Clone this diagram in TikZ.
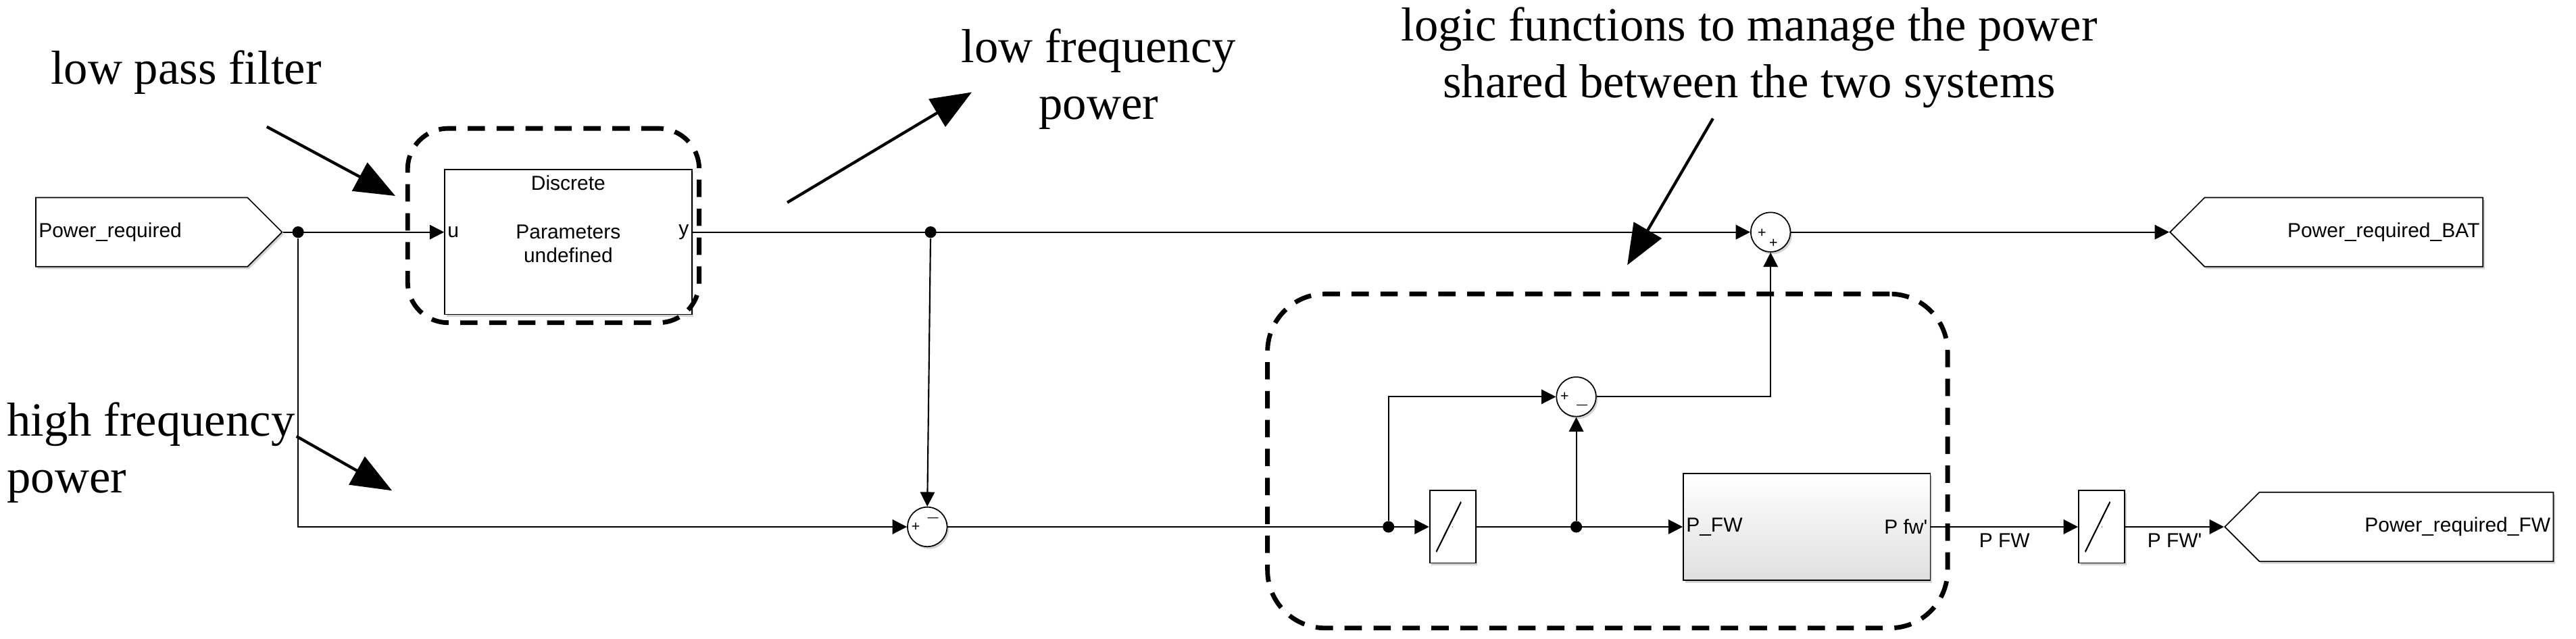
\documentclass[tikz,border=0pt]{standalone}
\usepackage{fontspec}
\setmainfont{Liberation Serif}
\newfontfamily\blockfont{Liberation Sans}
\usetikzlibrary{positioning,arrows.meta,shapes.symbols,shadows}
\tikzset{
  blk/.style={draw,fill=white,font=\blockfont\fontsize{7}{8}\selectfont,drop shadow={opacity=.35,shadow xshift=.6pt,shadow yshift=-.8pt}},
  port/.style={blk,signal,minimum width=2.86cm,minimum height=.84cm,inner sep=1pt},
  sum/.style={blk,circle,minimum size=.48cm,inner sep=0pt},
  sat/.style={blk,minimum width=.56cm,minimum height=.88cm,inner sep=0pt},
  dot/.style={circle,fill,inner sep=0pt,minimum size=4pt},
  sig/.style={-{Triangle[length=5pt,width=5pt]},line width=.5pt},
  grp/.style={draw,line width=1.6pt,dash pattern=on 6pt off 4pt,rounded corners=14pt},
  note/.style={font=\fontsize{16.5}{19.5}\selectfont,align=center},
  call/.style={-{Triangle[length=14pt,width=11pt]},line width=1pt},
  sgn/.style={font=\blockfont\fontsize{5}{5}\selectfont,inner sep=0pt},
  lbl/.style={font=\blockfont\fontsize{7}{8}\selectfont,inner sep=1pt}
}
\begin{document}
\begin{tikzpicture}[x=0.02cm,y=-0.02cm]
  \useasboundingbox (0,0) rectangle (1564,388);
  % ports
  \node[port,signal to=east,text width=2.5cm] (pin) at (86,141) {Power\_required};
  \node[port,signal to=west,minimum width=3.8cm,text width=3.3cm,align=right] (pbat) at (1423,141) {Power\_required\_BAT};
  \node[port,signal to=west,minimum width=3.96cm,text width=3.5cm,align=right] (pfw) at (1461,320) {Power\_required\_FW};
  % blocks
  \node[blk,minimum width=3cm,minimum height=1.76cm] (lpf) at (345,147) {};
  \node[lbl,below=1pt of lpf.north] {Discrete};
  \node[lbl,align=center] at (345,148) {Parameters\\undefined};
  \node[lbl,anchor=west] at (lpf.west|-pin) {u};
  \node[lbl,anchor=east] at (lpf.east|-pin) {y};
  \node[sum] (s1) at (1075,141) {};
  \node[sgn] at ([xshift=-3pt,yshift=-.5pt]s1.center) {+};
  \node[sgn] at ([yshift=-4pt,xshift=1pt]s1.center) {+};
  \node[sum] (s0) at (563,320) {};
  \node[sgn] at ([xshift=-4pt]s0.center) {+};
  \node[sgn] at ([yshift=3pt,xshift=2pt]s0.center) {$-$};
  \node[sum] (s2) at (957,241) {};
  \node[sgn] at ([xshift=-4pt]s2.center) {+};
  \node[sgn] at ([yshift=-3pt,xshift=2pt]s2.center) {$-$};
  \node[sat] (sat1) at (882,320) {};
  \node[sat] (sat2) at (1276,320) {};
  \foreach \s in {sat1,sat2}{
    \draw[gray,line width=.3pt] (\s.center) ++(-.2,0) -- ++(.4,0);
    \draw[line width=.5pt] ([xshift=-.2cm,yshift=-.3cm]\s.center) -- ++(.1,0) -- ([xshift=.1cm,yshift=.3cm]\s.center) -- ++(.1,0);
  }
  \node[draw,top color=white,bottom color=gray!25,minimum width=3cm,minimum height=1.3cm,drop shadow={opacity=.35,shadow xshift=.6pt,shadow yshift=-.8pt}] (fw) at (1097,320) {};
  \node[lbl,anchor=west] at (fw.west) {P\_FW};
  \node[lbl,anchor=east] at (fw.east) {P fw'};
  % junctions
  \node[dot] (j1) at (181,141) {};
  \node[dot] (j2) at (565,141) {};
  \node[dot] (j3) at (843,320) {};
  \node[dot] (j4) at (957,320) {};
  \coordinate (c1) at (181,320);
  \coordinate (c2) at (843,241);
  \coordinate (c3) at (1075,241);
  % signals
  \draw[sig] (pin.east) -- (lpf.west|-pin);
  \draw[sig] (lpf.east|-pin) -- (s1.west);
  \draw[sig] (j2) -- (s0.north);
  \draw[sig] (j1) -- (c1) -- (s0.west);
  \draw[sig] (s0.east) -- (sat1.west);
  \draw[sig] (sat1.east) -- (fw.west);
  \draw[sig] (j3) -- (c2) -- (s2.west);
  \draw[sig] (j4) -- (s2.south);
  \draw[sig] (s2.east) -- (c3) -- (s1.south);
  \draw[sig] (s1.east) -- (pbat.west);
  \draw[sig] (fw.east) -- node[lbl,below=1pt]{P FW} (sat2.west);
  \draw[sig] (sat2.east) -- node[lbl,below=1pt]{P FW'} (pfw.west);
  % groups and notes
  \node[grp,minimum width=3.54cm,minimum height=2.36cm] (g1) at (336,137) {};
  \node[grp,minimum width=8.26cm,minimum height=4.06cm,rounded corners=20pt] (g2) at (976,280) {};
  \node[note] (n1) at (113,44) {low pass filter};
  \node[note] (n2) at (667,48) {low frequency\\power};
  \node[note,align=left,anchor=west,inner sep=0pt] (n3) at (4,275) {high frequency\\power};
  \node[note] (n4) at (1062,35) {logic functions to manage the power\\shared between the two systems};
  \coordinate (a1) at (162,77);
  \coordinate (a2) at (478,123);
  \coordinate (a3) at (180,265);
  \coordinate (a4) at (1040,72);
  \draw[call] (a1) -- (240,119);
  \draw[call] (a2) -- (590,56);
  \draw[call] (a3) -- (238,298);
  \draw[call] (a4) -- (988,161);
\end{tikzpicture}
\end{document}
